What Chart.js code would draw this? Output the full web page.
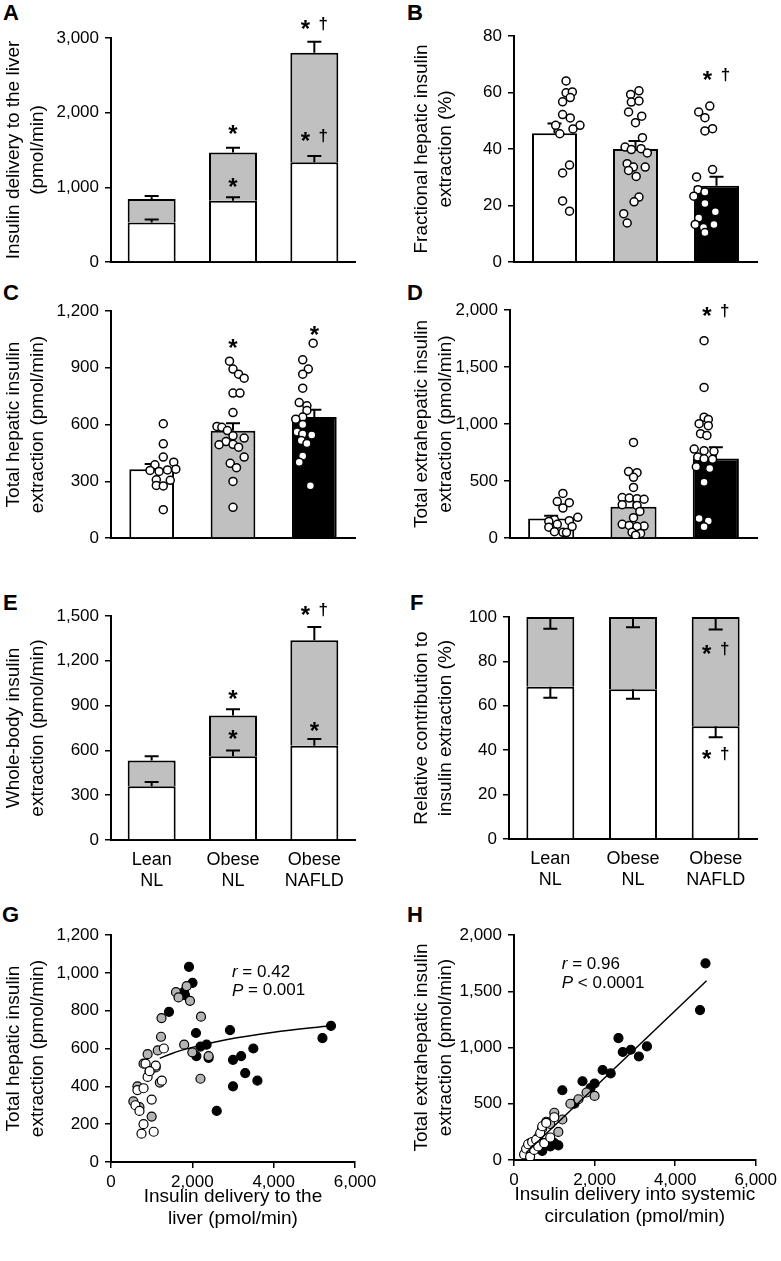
<!DOCTYPE html>
<html>
<head>
<meta charset="utf-8">
<script src="https://cdn.jsdelivr.net/npm/chart.js@4.4.1/dist/chart.umd.min.js"></script>
<style>
  html, body { margin: 0; padding: 0; background: #fff; }
  body { width: 781px; height: 1261px; position: relative; overflow: hidden; }
  .panel { position: absolute; }
  .tag { position: absolute; font: bold 22px 'Liberation Sans', Arial, sans-serif; line-height: 1; color: #000; }
</style>
</head>
<body>
<div class="tag" style="left:3px;top:2px">A</div>
<div class="tag" style="left:407px;top:2px">B</div>
<div class="tag" style="left:3px;top:282px">C</div>
<div class="tag" style="left:407px;top:282px">D</div>
<div class="tag" style="left:3px;top:592px">E</div>
<div class="tag" style="left:410px;top:592px">F</div>
<div class="tag" style="left:2px;top:904px">G</div>
<div class="tag" style="left:407px;top:904px">H</div>

<div class="panel" style="left:0;top:0;width:390px;height:285px"><canvas id="chartA"></canvas></div>
<div class="panel" style="left:390px;top:0;width:391px;height:285px"><canvas id="chartB"></canvas></div>
<div class="panel" style="left:0;top:285px;width:390px;height:285px"><canvas id="chartC"></canvas></div>
<div class="panel" style="left:390px;top:285px;width:391px;height:285px"><canvas id="chartD"></canvas></div>
<div class="panel" style="left:0;top:570px;width:390px;height:330px"><canvas id="chartE"></canvas></div>
<div class="panel" style="left:390px;top:570px;width:391px;height:330px"><canvas id="chartF"></canvas></div>
<div class="panel" style="left:0;top:900px;width:390px;height:361px"><canvas id="chartG"></canvas></div>
<div class="panel" style="left:390px;top:900px;width:391px;height:361px"><canvas id="chartH"></canvas></div>

<script>
// ---- data ----
const groups = [['Lean', 'NL'], ['Obese', 'NL'], ['Obese', 'NAFLD']];

// A: insulin delivery to the liver (pmol/min), white part + grey part
const deliveryBase = [528, 821, 1335];
const deliveryTop = [316, 647, 1467];
const deliveryBaseErr = [42, 45, 84];
const deliveryTopErr = [40, 62, 147];

// B: fractional hepatic insulin extraction (%)
const fracMean = [45.6, 40.0, 27.0];
const fracErr = [3.4, 2.8, 3.2];
const fracLean = [64.1, 59.9, 60.2, 56.7, 58.2, 52.2, 51.0, 48.4, 48.4, 45.4, 47.1, 34.3, 31.5, 21.6, 18.0];
const fracLeanPos = [0, 0, 0.09, -0.05, 0.06, -0.05, 0.06, -0.15, 0.2, -0.09, 0.1, 0.05, -0.05, -0.05, 0.05];
const fracObese = [59.3, 60.6, 56.6, 57.0, 53.1, 51.6, 49.3, 44.0, 40.7, 39.8, 40.1, 38.6, 34.8, 33.6, 33.6, 32.4, 30.3, 23.0, 21.3, 17.1, 13.8];
const fracObesePos = [-0.07, 0.05, -0.06, 0.05, -0.1, 0.09, 0, 0.1, -0.15, -0.06, 0.08, 0.17, -0.12, -0.03, 0.14, -0.1, 0.01, 0.05, -0.02, -0.17, -0.12];
const fracNafld = [55.2, 53.1, 51.1, 47.2, 46.4, 32.7, 30.1, 25.6, 24.8, 23.3, 20.7, 17.8, 15.6, 13.3, 13.3, 12.2, 10.4];
const fracNafldPos = [0.07, -0.09, 0, 0.11, 0, 0.11, -0.12, -0.1, 0, -0.16, 0, 0.15, -0.09, -0.14, 0.13, -0.02, 0];

// C: total hepatic insulin extraction (pmol/min)
const hepMean = [364, 567, 639];
const hepErr = [27, 40, 39];
const hepLean = [604, 498, 428, 387, 401, 357, 352, 360, 364, 308, 305, 278, 275, 150];
const hepLeanPos = [0, 0, 0, -0.12, 0.15, -0.19, -0.06, 0.06, 0.18, -0.1, 0.1, -0.1, 0, 0];
const hepObese = [935, 893, 866, 845, 766, 766, 663, 590, 585, 568, 540, 528, 510, 495, 493, 480, 428, 395, 372, 299, 162];
const hepObesePos = [-0.05, 0, 0.08, 0.16, 0, 0.1, 0, -0.23, -0.16, -0.08, 0, 0.16, -0.1, 0, -0.2, 0.08, 0.16, -0.04, 0.05, 0, 0];
const hepNafld = [1030, 942, 893, 866, 792, 716, 699, 674, 639, 628, 600, 560, 550, 545, 515, 500, 434, 401, 276];
const hepNafldPos = [0.15, 0, 0.08, 0, 0, -0.05, 0.06, 0.06, 0, -0.1, 0, -0.08, 0, 0.13, -0.02, 0.06, 0, -0.05, 0.11];

// D: total extrahepatic insulin extraction (pmol/min)
const extraMean = [172, 275, 698];
const extraErr = [24, 58, 97];
const extraLean = [391, 320, 310, 263, 181, 160, 152, 145, 120, 100, 95, 55, 50, 48];
const extraLeanPos = [0, -0.08, 0.09, 0, 0.21, -0.12, 0.09, -0.2, -0.08, 0.13, -0.2, -0.12, 0, 0.05];
const extraObese = [838, 583, 573, 532, 444, 355, 350, 345, 340, 292, 285, 233, 178, 120, 110, 105, 100, 50, 40, 25];
const extraObesePos = [0, -0.07, 0.05, 0, 0, -0.16, -0.06, 0.05, 0.15, -0.16, 0.05, 0.09, 0, -0.16, -0.06, 0.15, 0.05, -0.02, 0.1, 0.03];
const extraNafld = [1731, 1321, 1060, 1040, 1003, 985, 915, 900, 780, 766, 760, 710, 695, 690, 625, 610, 488, 170, 150, 99];
const extraNafldPos = [0, 0, 0, 0.06, -0.07, 0.06, -0.05, 0.04, -0.14, 0, 0.14, -0.09, 0, 0.12, -0.11, 0.08, 0, -0.07, 0.06, 0];

// E: whole-body insulin extraction (pmol/min)
const wholeBase = [360, 560, 631];
const wholeTop = [173, 273, 707];
const wholeBaseErr = [29, 40, 45];
const wholeTopErr = [27, 43, 89];

// F: relative contribution to insulin extraction (%)
const relBase = [68.6, 67.4, 50.8];
const relTop = [31.4, 32.6, 49.2];
const relBaseErr = [5.0, 4.2, 5.0];
const relTopErr = [5.3, 4.6, 5.6];

// G: hepatic extraction vs delivery to the liver
const gLeanX = [600, 650, 700, 750, 800, 850, 900, 1000, 1050, 1100, 1250, 1300, 800, 950];
const gLeanY = [300, 380, 270, 150, 390, 520, 450, 330, 160, 510, 430, 600, 200, 480];
const gObeseX = [550, 650, 700, 800, 900, 950, 1000, 1100, 1150, 1200, 1230, 1242, 1598, 1660, 1860, 1943, 2213, 1800, 2000, 2200, 2400];
const gObeseY = [320, 400, 290, 520, 570, 480, 240, 500, 590, 420, 662, 761, 898, 870, 930, 852, 768, 620, 580, 440, 560];
const gNafldX = [1426, 1795, 1820, 1918, 2004, 2090, 2100, 2200, 2350, 2400, 2600, 2926, 3000, 3000, 3200, 3300, 3500, 3600, 5200, 5410];
const gNafldY = [794, 900, 882, 1032, 947, 682, 560, 610, 620, 550, 270, 697, 400, 540, 560, 470, 600, 430, 655, 720];
const gFitX = [1200, 1500, 2000, 2800, 4000, 5400];
const gFitY = [548, 574, 606, 645, 686, 720];

// H: extrahepatic extraction vs delivery into systemic circulation
const hLeanX = [250, 300, 350, 400, 450, 500, 550, 600, 650, 700, 750, 800, 900, 1000];
const hLeanY = [50, 100, 140, 30, 160, 90, 180, 120, 240, 300, 150, 330, 200, 380];
const hObeseX = [300, 400, 500, 600, 700, 800, 900, 1000, 1100, 1200, 1400, 1600, 1800, 2000];
const hObeseY = [60, 150, 120, 200, 280, 340, 320, 420, 250, 360, 500, 540, 600, 570];
const hNafldX = [700, 900, 1000, 1100, 1200, 1500, 1700, 1900, 2000, 2200, 2400, 2593, 2700, 2900, 3100, 3300, 4617, 4753];
const hNafldY = [80, 120, 150, 130, 620, 500, 700, 640, 680, 800, 770, 1084, 960, 980, 920, 1010, 1333, 1748];
const hFitX = [300, 4780];
const hFitY = [64, 1594];

// ---- shared styling ----
const FONT = "'Liberation Sans', Arial, sans-serif";
Chart.defaults.font.family = FONT;
Chart.defaults.color = '#000';
Chart.defaults.animation = false;
Chart.defaults.plugins.legend.display = false;
Chart.defaults.plugins.tooltip.enabled = false;

const GREY = '#c0c0c0';
const DOT_GREY = '#b4b4b4';

// Error bars, significance marks and r/P labels
const panelExtras = {
    id: 'panelExtras',
    beforeDraw(chart) {
        chart.$errDone = false;
    },
    beforeDatasetDraw(chart, args, opts) {
        if (args.meta.type === 'scatter' && !chart.$errDone && opts.errorBars) {
            drawErrorBars(chart, opts.errorBars);
            chart.$errDone = true;
        }
    },
    afterDatasetsDraw(chart, args, opts) {
        if (!chart.$errDone && opts.errorBars) {
            drawErrorBars(chart, opts.errorBars);
            chart.$errDone = true;
        }
        const ctx = chart.ctx;
        const xs = chart.scales.x;
        const ys = chart.scales.y;
        (opts.marks || []).forEach(m => {
            const cx = xs.getPixelForValue(m.i);
            const cy = ys.getPixelForValue(m.y);
            ctx.save();
            ctx.fillStyle = '#000';
            ctx.textAlign = 'center';
            ctx.textBaseline = 'alphabetic';
            if (m.text === '*') {
                ctx.font = 'bold 24px ' + FONT;
                ctx.fillText('*', cx, cy + 14);
            } else {
                ctx.font = 'bold 24px ' + FONT;
                ctx.fillText('*', cx - 9, cy + 14);
                ctx.font = 'bold 17px ' + FONT;
                ctx.fillText('\u2020', cx + 9, cy + 6);
            }
            ctx.restore();
        });
    },
    afterDraw(chart, args, opts) {
        if (!opts.stats) return;
        const ctx = chart.ctx;
        const xs = chart.scales.x;
        const ys = chart.scales.y;
        opts.stats.forEach(s => {
            let x = xs.getPixelForValue(s.x);
            const y = ys.getPixelForValue(s.y);
            ctx.save();
            ctx.fillStyle = '#000';
            ctx.textBaseline = 'middle';
            ctx.textAlign = 'left';
            ctx.font = 'italic 17px ' + FONT;
            ctx.fillText(s.sym, x, y);
            x += ctx.measureText(s.sym).width;
            ctx.font = '17px ' + FONT;
            ctx.fillText(s.rest, x, y);
            ctx.restore();
        });
    }
};

function drawErrorBars(chart, list) {
    const ctx = chart.ctx;
    const ys = chart.scales.y;
    ctx.save();
    ctx.strokeStyle = '#000';
    ctx.lineWidth = 2;
    list.forEach(e => {
        const meta = chart.getDatasetMeta(e.dataset);
        meta.data.forEach((bar, i) => {
            const len = ys.getPixelForValue(0) - ys.getPixelForValue(e.values[i]);
            const y1 = bar.y + e.dir * len;
            ctx.beginPath();
            ctx.moveTo(bar.x, bar.y);
            ctx.lineTo(bar.x, y1);
            ctx.moveTo(bar.x - 7, y1);
            ctx.lineTo(bar.x + 7, y1);
            ctx.stroke();
        });
    });
    ctx.restore();
}

Chart.register(panelExtras);

function yAxis(max, step, title, titlePad, width) {
    return {
        min: 0,
        max: max,
        ticks: { stepSize: step, font: { size: 17 }, color: '#000', padding: 6 },
        grid: { drawOnChartArea: false, drawTicks: true, tickLength: 6, color: '#000', lineWidth: 1.5 },
        border: { display: true, color: '#000', width: 2 },
        title: { display: true, text: title, color: '#000', font: { size: 19, lineHeight: 1.3 }, padding: { top: titlePad, bottom: 0 } },
        afterFit(scale) { scale.width = width; }
    };
}

function catAxis(showLabels, stacked) {
    return {
        stacked: stacked,
        offset: true,
        grid: { display: false },
        border: { display: true, color: '#000', width: 2 },
        ticks: { display: showLabels, font: { size: 18, lineHeight: 1.15 }, color: '#000', padding: 2, maxRotation: 0, autoSkip: false },
        afterFit(scale) { scale.height = showLabels ? 60 : 0; }
    };
}

function dots(values, pos, group, fill) {
    return {
        type: 'scatter',
        xAxisID: 'xs',
        order: 1,
        data: values.map((v, k) => ({ x: group + pos[k], y: v })),
        pointRadius: 4,
        pointBackgroundColor: fill,
        pointBorderColor: '#000',
        pointBorderWidth: 1.5
    };
}

const jitterAxis = { type: 'linear', display: false, min: -0.5, max: 2.5 };

function barSet(values, fill, pct) {
    return {
        type: 'bar',
        order: 2,
        grouped: false,
        data: values,
        backgroundColor: fill,
        borderColor: '#000',
        borderWidth: 2,
        categoryPercentage: 1,
        barPercentage: pct
    };
}

// A
function initializeChartA() {
    new Chart(document.getElementById('chartA'), {
        type: 'bar',
        data: {
            labels: groups,
            datasets: [barSet(deliveryBase, '#fff', 0.59), barSet(deliveryTop, GREY, 0.59)]
        },
        options: {
            responsive: true,
            maintainAspectRatio: false,
            layout: { padding: { left: 0, right: 35, top: 38, bottom: 23 } },
            scales: {
                x: catAxis(false, true),
                y: Object.assign(yAxis(3000, 1000, ['Insulin delivery to the liver', '(pmol/min)'], 1, 111), { stacked: true })
            },
            plugins: {
                panelExtras: {
                    errorBars: [{ dataset: 0, values: deliveryBaseErr, dir: -1 }, { dataset: 1, values: deliveryTopErr, dir: -1 }],
                    marks: [{ i: 1, y: 1795, text: '*' }, { i: 1, y: 1085, text: '*' }, { i: 2, y: 3200, text: '*†' }, { i: 2, y: 1700, text: '*†' }]
                }
            }
        }
    });
}

// B
function initializeChartB() {
    new Chart(document.getElementById('chartB'), {
        type: 'bar',
        data: {
            labels: groups,
            datasets: [
                barSet(fracMean, ['#fff', GREY, '#000'], 0.555),
                dots(fracLean, fracLeanPos, 0, '#fff'),
                dots(fracObese, fracObesePos, 1, '#fff'),
                dots(fracNafld, fracNafldPos, 2, '#fff')
            ]
        },
        options: {
            responsive: true,
            maintainAspectRatio: false,
            layout: { padding: { left: 0, right: 24, top: 36, bottom: 23 } },
            scales: {
                x: catAxis(false, false),
                xs: jitterAxis,
                y: yAxis(80, 20, ['Fractional hepatic insulin', 'extraction (%)'], 19, 124)
            },
            plugins: {
                panelExtras: {
                    errorBars: [{ dataset: 0, values: fracErr, dir: -1 }],
                    marks: [{ i: 2, y: 66.5, text: '*†' }]
                }
            }
        }
    });
}

// C
function initializeChartC() {
    new Chart(document.getElementById('chartC'), {
        type: 'bar',
        data: {
            labels: groups,
            datasets: [
                barSet(hepMean, ['#fff', GREY, '#000'], 0.55),
                dots(hepLean, hepLeanPos, 0, '#fff'),
                dots(hepObese, hepObesePos, 1, '#fff'),
                dots(hepNafld, hepNafldPos, 2, '#fff')
            ]
        },
        options: {
            responsive: true,
            maintainAspectRatio: false,
            layout: { padding: { left: 0, right: 35, top: 26, bottom: 32 } },
            scales: {
                x: catAxis(false, false),
                xs: jitterAxis,
                y: yAxis(1200, 300, ['Total hepatic insulin', 'extraction (pmol/min)'], 1, 111)
            },
            plugins: {
                panelExtras: {
                    errorBars: [{ dataset: 0, values: hepErr, dir: -1 }],
                    marks: [{ i: 1, y: 1038, text: '*' }, { i: 2, y: 1106, text: '*' }]
                }
            }
        }
    });
}

// D
function initializeChartD() {
    new Chart(document.getElementById('chartD'), {
        type: 'bar',
        data: {
            labels: groups,
            datasets: [
                barSet(extraMean, ['#fff', GREY, '#000'], 0.56),
                dots(extraLean, extraLeanPos, 0, '#fff'),
                dots(extraObese, extraObesePos, 1, '#fff'),
                dots(extraNafld, extraNafldPos, 2, '#fff')
            ]
        },
        options: {
            responsive: true,
            maintainAspectRatio: false,
            layout: { padding: { left: 0, right: 24, top: 25, bottom: 32 } },
            scales: {
                x: catAxis(false, false),
                xs: jitterAxis,
                y: yAxis(2000, 500, ['Total extrahepatic insulin', 'extraction (pmol/min)'], 19, 120)
            },
            plugins: {
                panelExtras: {
                    errorBars: [{ dataset: 0, values: extraErr, dir: -1 }],
                    marks: [{ i: 2, y: 2000, text: '*†' }]
                }
            }
        }
    });
}

// E
function initializeChartE() {
    new Chart(document.getElementById('chartE'), {
        type: 'bar',
        data: {
            labels: groups,
            datasets: [barSet(wholeBase, '#fff', 0.59), barSet(wholeTop, GREY, 0.59)]
        },
        options: {
            responsive: true,
            maintainAspectRatio: false,
            layout: { padding: { left: 0, right: 35, top: 46, bottom: 0 } },
            scales: {
                x: catAxis(true, true),
                y: Object.assign(yAxis(1500, 300, ['Whole-body insulin', 'extraction (pmol/min)'], 1, 111), { stacked: true })
            },
            plugins: {
                panelExtras: {
                    errorBars: [{ dataset: 0, values: wholeBaseErr, dir: -1 }, { dataset: 1, values: wholeTopErr, dir: -1 }],
                    marks: [{ i: 1, y: 985, text: '*' }, { i: 1, y: 716, text: '*' }, { i: 2, y: 1549, text: '*†' }, { i: 2, y: 771, text: '*' }]
                }
            }
        }
    });
}

// F
function initializeChartF() {
    new Chart(document.getElementById('chartF'), {
        type: 'bar',
        data: {
            labels: groups,
            datasets: [barSet(relBase, '#fff', 0.58), barSet(relTop, GREY, 0.58)]
        },
        options: {
            responsive: true,
            maintainAspectRatio: false,
            layout: { padding: { left: 0, right: 24, top: 47, bottom: 1 } },
            scales: {
                x: catAxis(true, true),
                y: Object.assign(yAxis(100, 20, ['Relative contribution to', 'insulin extraction (%)'], 19, 119), { stacked: true })
            },
            plugins: {
                panelExtras: {
                    errorBars: [{ dataset: 0, values: relBaseErr, dir: 1 }, { dataset: 1, values: relTopErr, dir: 1 }],
                    marks: [{ i: 2, y: 86, text: '*†' }, { i: 2, y: 38.8, text: '*†' }]
                }
            }
        }
    });
}

function scatterSet(xv, yv, fill) {
    return {
        type: 'scatter',
        data: xv.map((x, k) => ({ x: x, y: yv[k] })),
        pointRadius: 4.5,
        pointBackgroundColor: fill,
        pointBorderColor: '#000',
        pointBorderWidth: 1.2
    };
}

function fitSet(xv, yv) {
    return {
        type: 'line',
        data: xv.map((x, k) => ({ x: x, y: yv[k] })),
        borderColor: '#000',
        borderWidth: 1.5,
        pointRadius: 0,
        cubicInterpolationMode: 'monotone',
        fill: false
    };
}

function xLinear(title) {
    return {
        type: 'linear',
        min: 0,
        max: 6000,
        ticks: { stepSize: 2000, font: { size: 17 }, color: '#000', padding: 4 },
        grid: { drawOnChartArea: false, drawTicks: true, tickLength: 6, color: '#000', lineWidth: 1.5 },
        border: { display: true, color: '#000', width: 2 },
        title: { display: true, text: title, color: '#000', font: { size: 19, lineHeight: 1.15 }, padding: { top: 0, bottom: 31 } },
        afterFit(scale) { scale.height = 99; }
    };
}

// G
function initializeChartG() {
    new Chart(document.getElementById('chartG'), {
        type: 'scatter',
        data: {
            datasets: [
                fitSet(gFitX, gFitY),
                scatterSet(gLeanX, gLeanY, '#fff'),
                scatterSet(gObeseX, gObeseY, DOT_GREY),
                scatterSet(gNafldX, gNafldY, '#000')
            ]
        },
        options: {
            responsive: true,
            maintainAspectRatio: false,
            layout: { padding: { left: 0, right: 35, top: 35, bottom: 0 } },
            scales: {
                x: xLinear(['Insulin delivery to the', 'liver (pmol/min)']),
                y: yAxis(1200, 200, ['Total hepatic insulin', 'extraction (pmol/min)'], 1, 111)
            },
            plugins: {
                panelExtras: {
                    stats: [{ x: 2975, y: 1005, sym: 'r', rest: ' = 0.42' }, { x: 2975, y: 905, sym: 'P', rest: ' = 0.001' }]
                }
            }
        }
    });
}

// H
function initializeChartH() {
    new Chart(document.getElementById('chartH'), {
        type: 'scatter',
        data: {
            datasets: [
                fitSet(hFitX, hFitY),
                scatterSet(hLeanX, hLeanY, '#fff'),
                scatterSet(hObeseX, hObeseY, DOT_GREY),
                scatterSet(hNafldX, hNafldY, '#000')
            ]
        },
        options: {
            responsive: true,
            maintainAspectRatio: false,
            layout: { padding: { left: 0, right: 24, top: 35, bottom: 2 } },
            scales: {
                x: xLinear(['Insulin delivery into systemic', 'circulation (pmol/min)']),
                y: yAxis(2000, 500, ['Total extrahepatic insulin', 'extraction (pmol/min)'], 19, 124)
            },
            plugins: {
                panelExtras: {
                    stats: [{ x: 1185, y: 1742, sym: 'r', rest: ' = 0.96' }, { x: 1185, y: 1573, sym: 'P', rest: ' < 0.0001' }]
                }
            }
        }
    });
}

initializeChartA();
initializeChartB();
initializeChartC();
initializeChartD();
initializeChartE();
initializeChartF();
initializeChartG();
initializeChartH();
</script>
</body>
</html>
